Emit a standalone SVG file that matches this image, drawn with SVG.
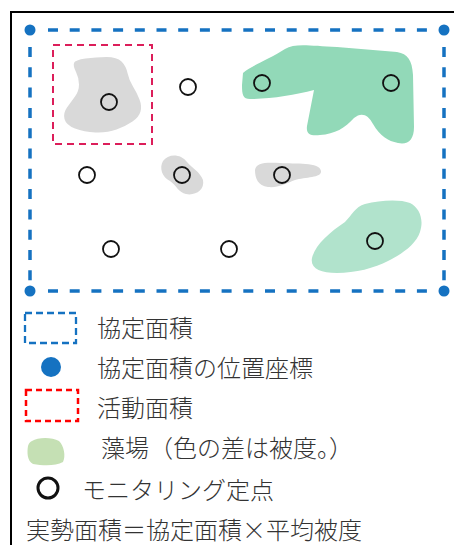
<svg xmlns="http://www.w3.org/2000/svg" width="454" height="545" viewBox="0 0 454 545">
<style>
.pt{fill:none;stroke:#111;stroke-width:1.8}
.bl{stroke:#1572c1;stroke-width:3.5;fill:none;stroke-dasharray:10 11.7}
.blv{stroke:#1572c1;stroke-width:3.5;fill:none;stroke-dasharray:10 10.3}
.dot{fill:#1572c1}
.gray{fill:#d9d9d9}
.t{font-family:"Noto Sans CJK JP","Noto Sans CJK SC",sans-serif;font-size:24px;font-weight:300;fill:#333}
</style>
<rect width="454" height="545" fill="#fff"/>
<path d="M11,545 V12 H454" fill="none" stroke="#000" stroke-width="2"/>
<g id="seagrass">
<path id="gray1" class="gray" d="M85.5,58.5 Q96,57 106.5,57 Q117,57 121.5,61.5 Q126,66 127.5,73 Q129,80 133,86.5 Q137,93 139.5,99.5 Q142,106 140.5,111.5 Q139,117 132.5,121.5 Q126,126 116.5,129.5 Q107,133 95.5,132.5 Q84,132 75,128.5 Q66,125 64.5,119 Q63,113 67,107.5 Q71,102 75,96.5 Q79,91 79,84.5 Q79,78 76,72 Q73,66 74,63 Q75,60 85.5,58.5 Z"/>
<path id="gray2" class="gray" d="M163,161 C168,154 180,153 187,162 C192,168 200,172 203,180 C205,190 195,196 186,194 C179,193 176,185 170,181 C162,177 159,168 163,161 Z"/>
<path id="gray3" class="gray" d="M255,170 C256,163 265,162 280,163 C295,164 320,162 321,171 C322,178 305,177 295,180 C285,184 278,188 268,187 C258,186 255,178 255,170 Z"/>
<path id="green1" fill="#92d9b8" d="M243,73 C250,66 268,60 285,49 C295,43 310,46 337,47 L397,52 C408,54 412,60 413,75 L414,127 C414,140 408,145 398,143 C388,141 380,136 373,124 C368,114 361,112 354,118 C345,128 335,134 320,135 C310,136 306,134 307,126 L314,90 C295,95 270,99 250,99 C243,99 242,95 242,85 Z"/>
<path id="green2" fill="#b1e3cc" d="M312,258 C315,245 330,232 345,222 C352,215 355,207 365,204 C380,200 400,199 410,203 C420,208 424,220 420,232 C416,245 400,255 388,261 C375,268 355,273 337,273 C320,273 310,268 312,258 Z"/>
</g>
<g id="activity-area">
<rect x="53" y="45" width="99" height="99" fill="none" stroke="#dc1e5a" stroke-width="2" stroke-dasharray="7 5"/>
</g>
<g id="agreement-area">
<line class="bl" x1="48" y1="30" x2="437" y2="30"/>
<line class="bl" x1="48" y1="291" x2="437" y2="291"/>
<line class="blv" x1="30" y1="47" x2="30" y2="284"/>
<line class="blv" x1="444" y1="47" x2="444" y2="284"/>
<circle class="dot" cx="30" cy="30" r="5.5"/>
<circle class="dot" cx="444" cy="30" r="5.5"/>
<circle class="dot" cx="30" cy="291" r="5.5"/>
<circle class="dot" cx="444" cy="291" r="5.5"/>
</g>
<g id="monitoring-points">
<circle class="pt" cx="109" cy="102" r="8"/>
<circle class="pt" cx="188" cy="87" r="8"/>
<circle class="pt" cx="262" cy="83" r="8"/>
<circle class="pt" cx="391" cy="83" r="8"/>
<circle class="pt" cx="87" cy="175" r="8"/>
<circle class="pt" cx="182" cy="175" r="8"/>
<circle class="pt" cx="282" cy="175" r="8"/>
<circle class="pt" cx="111" cy="249" r="8"/>
<circle class="pt" cx="229" cy="249" r="8"/>
<circle class="pt" cx="375" cy="241" r="8"/>
</g>
<g id="legend">
<rect x="25" y="313" width="51" height="30" fill="none" stroke="#1572c1" stroke-width="2.3" stroke-dasharray="7 4"/>
<text class="t" x="97" y="337">協定面積</text>
<circle class="dot" cx="51" cy="367" r="10"/>
<text class="t" x="97" y="377">協定面積の位置座標</text>
<rect x="26" y="390" width="52" height="31" fill="none" stroke="#ff0000" stroke-width="2.5" stroke-dasharray="6 4"/>
<text class="t" x="97" y="417">活動面積</text>
<path fill="#c5e0b4" d="M32,441 C38,437 52,437 59,441 C64,446 66,456 63,462 C56,466 44,466 33,464 C27,461 27,452 28,446 C29,443 30,442 32,441 Z"/>
<text class="t" x="101" y="457">藻場（色の差は被度。）</text>
<circle cx="48" cy="488" r="10" fill="none" stroke="#111" stroke-width="3"/>
<text class="t" x="82" y="499">モニタリング定点</text>
<text class="t" x="26" y="539">実勢面積＝協定面積×平均被度</text>
</g>
</svg>
